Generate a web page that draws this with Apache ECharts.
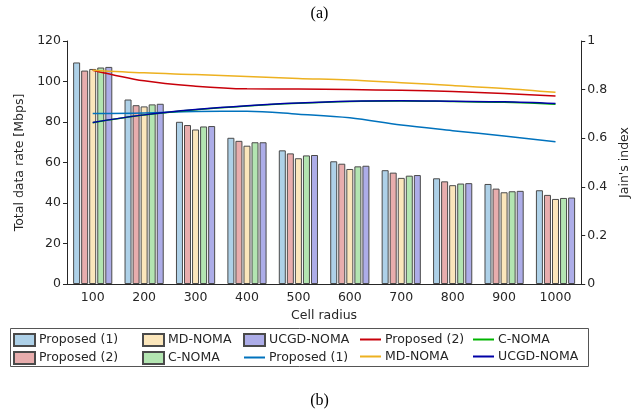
<!DOCTYPE html>
<html>
<head>
<meta charset="utf-8">
<script src="https://cdn.jsdelivr.net/npm/echarts@6/dist/echarts.min.js"></script>
<style>
  html, body { margin: 0; padding: 0; background: #fff; }
  #chart { width: 639px; height: 415px; }
</style>
</head>
<body>
<div id="chart"></div>
<script>
// Cell radius categories
const categories = ['100', '200', '300', '400', '500', '600', '700', '800', '900', '1000'];

// Total data rate [Mbps] per scheme
const rateProposed1 = [109.4, 91.1, 80.1, 72.2, 66.0, 60.6, 56.2, 52.2, 49.4, 46.3];
const rateProposed2 = [105.4, 88.3, 78.5, 70.7, 64.5, 59.4, 55.0, 50.7, 47.1, 44.0];
const rateMD = [106.2, 87.7, 76.3, 68.3, 62.1, 56.8, 52.4, 48.8, 45.3, 42.0];
const rateC = [106.9, 88.7, 77.8, 70.0, 63.5, 58.1, 53.5, 49.6, 45.8, 42.5];
const rateUCGD = [107.2, 89.0, 78.0, 70.0, 63.7, 58.4, 53.8, 49.8, 46.0, 42.7];

// Jain's fairness index per scheme
const jainProposed1 = [0.702, 0.704, 0.710, 0.711, 0.699, 0.684, 0.654, 0.631, 0.609, 0.585];
const jainProposed2 = [0.880, 0.836, 0.814, 0.803, 0.802, 0.800, 0.797, 0.792, 0.784, 0.774];
const jainMD = [0.880, 0.869, 0.862, 0.854, 0.846, 0.839, 0.828, 0.817, 0.805, 0.789];
const jainC = [0.664, 0.695, 0.717, 0.733, 0.744, 0.751, 0.753, 0.751, 0.748, 0.740];
const jainUCGD = [0.665, 0.696, 0.718, 0.734, 0.745, 0.752, 0.754, 0.752, 0.750, 0.743];

const FONT = 'DejaVu Sans';
const TXT = '#262626';
const FS = 12.5;

const barColors = {
  'Proposed (1)': '#aed1e8',
  'Proposed (2)': '#e8adad',
  'MD-NOMA': '#fbe6bb',
  'C-NOMA': '#b3e5b1',
  'UCGD-NOMA': '#adade8'
};
const lineColors = {
  'Proposed (1)': '#0072bd',
  'Proposed (2)': '#c8000a',
  'MD-NOMA': '#edb120',
  'C-NOMA': '#00b400',
  'UCGD-NOMA': '#0000a6'
};

function barSeries(label, data) {
  return {
    name: 'Rate: ' + label,
    type: 'bar',
    xAxisIndex: 0,
    yAxisIndex: 0,
    data: data,
    barWidth: 7,
    barGap: '15%',
    itemStyle: { color: barColors[label], borderColor: '#4a4a4a', borderWidth: 1 },
    emphasis: { disabled: true },
    z: 2
  };
}

function lineSeries(label, data) {
  return {
    name: 'Jain: ' + label,
    type: 'line',
    xAxisIndex: 0,
    yAxisIndex: 1,
    data: data,
    symbol: 'none',
    smooth: 0.35,
    lineStyle: { color: lineColors[label], width: 1.5 },
    itemStyle: { color: lineColors[label] },
    emphasis: { disabled: true },
    z: 4
  };
}

// legend entry: filled box for bar series, plain stroke for line series
function entry(name) {
  if (name.startsWith('Rate: ')) {
    return { name: name, icon: 'rect' };
  }
  return { name: name, itemStyle: { opacity: 0 } };
}

const legendText = { fontFamily: FONT, fontSize: FS, color: TXT };
function legendColumn(names, left) {
  return {
    orient: 'vertical',
    left: left,
    top: 333,
    itemGap: 4,
    itemWidth: 21,
    itemHeight: 12,
    padding: 0,
    selectedMode: false,
    textStyle: Object.assign({ padding: [0, 0, 0, -1] }, legendText),
    formatter: n => n.split(': ')[1],
    data: names.map(entry)
  };
}

const chart = echarts.init(document.getElementById('chart'), null, { renderer: 'canvas' });

chart.setOption({
  animation: false,
  backgroundColor: '#fff',
  textStyle: { fontFamily: FONT },
  grid: { left: 67, right: 55, top: 41, bottom: 131, containLabel: false },
  xAxis: [
    {
      type: 'category',
      data: categories,
      position: 'bottom',
      axisLine: { lineStyle: { color: TXT, width: 1 } },
      axisTick: { inside: true, length: 4, alignWithLabel: true, lineStyle: { color: TXT } },
      axisLabel: { fontFamily: FONT, fontSize: FS, color: TXT, margin: 7 },
      name: 'Cell radius',
      nameLocation: 'middle',
      nameGap: 15,
      nameTextStyle: { fontFamily: FONT, fontSize: FS, color: TXT }
    },
    {
      type: 'category',
      data: categories,
      position: 'top',
      axisLine: { lineStyle: { color: TXT, width: 1 } },
      axisTick: { inside: true, length: 4, alignWithLabel: true, lineStyle: { color: TXT } },
      axisLabel: { show: false }
    }
  ],
  yAxis: [
    {
      type: 'value',
      min: 0, max: 120, interval: 20,
      position: 'left',
      axisLine: { show: true, lineStyle: { color: TXT } },
      axisTick: { show: true, length: 4, lineStyle: { color: TXT } },
      axisLabel: { fontFamily: FONT, fontSize: FS, color: TXT, margin: 6 },
      splitLine: { show: false },
      name: 'Total data rate [Mbps]',
      nameLocation: 'middle',
      nameRotate: 90,
      nameGap: 30,
      nameTextStyle: { fontFamily: FONT, fontSize: FS, color: TXT }
    },
    {
      type: 'value',
      min: 0, max: 1, interval: 0.2,
      position: 'right',
      axisLine: { show: true, lineStyle: { color: TXT } },
      axisTick: { show: true, length: 4, lineStyle: { color: TXT } },
      axisLabel: { fontFamily: FONT, fontSize: FS, color: TXT, margin: 6 },
      splitLine: { show: false },
      name: "Jain's index",
      nameLocation: 'middle',
      nameRotate: 90,
      nameGap: 36,
      nameTextStyle: { fontFamily: FONT, fontSize: FS, color: TXT }
    }
  ],
  legend: [
    legendColumn(['Rate: Proposed (1)', 'Rate: Proposed (2)'], 13),
    legendColumn(['Rate: MD-NOMA', 'Rate: C-NOMA'], 142),
    legendColumn(['Rate: UCGD-NOMA', 'Jain: Proposed (1)'], 243),
    legendColumn(['Jain: Proposed (2)', 'Jain: MD-NOMA'], 359),
    legendColumn(['Jain: C-NOMA', 'Jain: UCGD-NOMA'], 472)
  ],
  graphic: [
    {
      type: 'rect',
      shape: { x: 10.5, y: 328.5, width: 578, height: 38 },
      style: { fill: 'none', stroke: '#555', lineWidth: 1 },
      silent: true
    },
    {
      type: 'text',
      left: 'center',
      top: 6,
      style: { text: '(a)', font: '16px "Liberation Serif"', fill: '#000' }
    },
    {
      type: 'text',
      left: 'center',
      top: 393,
      style: { text: '(b)', font: '16px "Liberation Serif"', fill: '#000' }
    }
  ],
  series: [
    barSeries('Proposed (1)', rateProposed1),
    barSeries('Proposed (2)', rateProposed2),
    barSeries('MD-NOMA', rateMD),
    barSeries('C-NOMA', rateC),
    barSeries('UCGD-NOMA', rateUCGD),
    lineSeries('Proposed (1)', jainProposed1),
    lineSeries('Proposed (2)', jainProposed2),
    lineSeries('MD-NOMA', jainMD),
    lineSeries('C-NOMA', jainC),
    lineSeries('UCGD-NOMA', jainUCGD)
  ]
});
</script>
</body>
</html>
